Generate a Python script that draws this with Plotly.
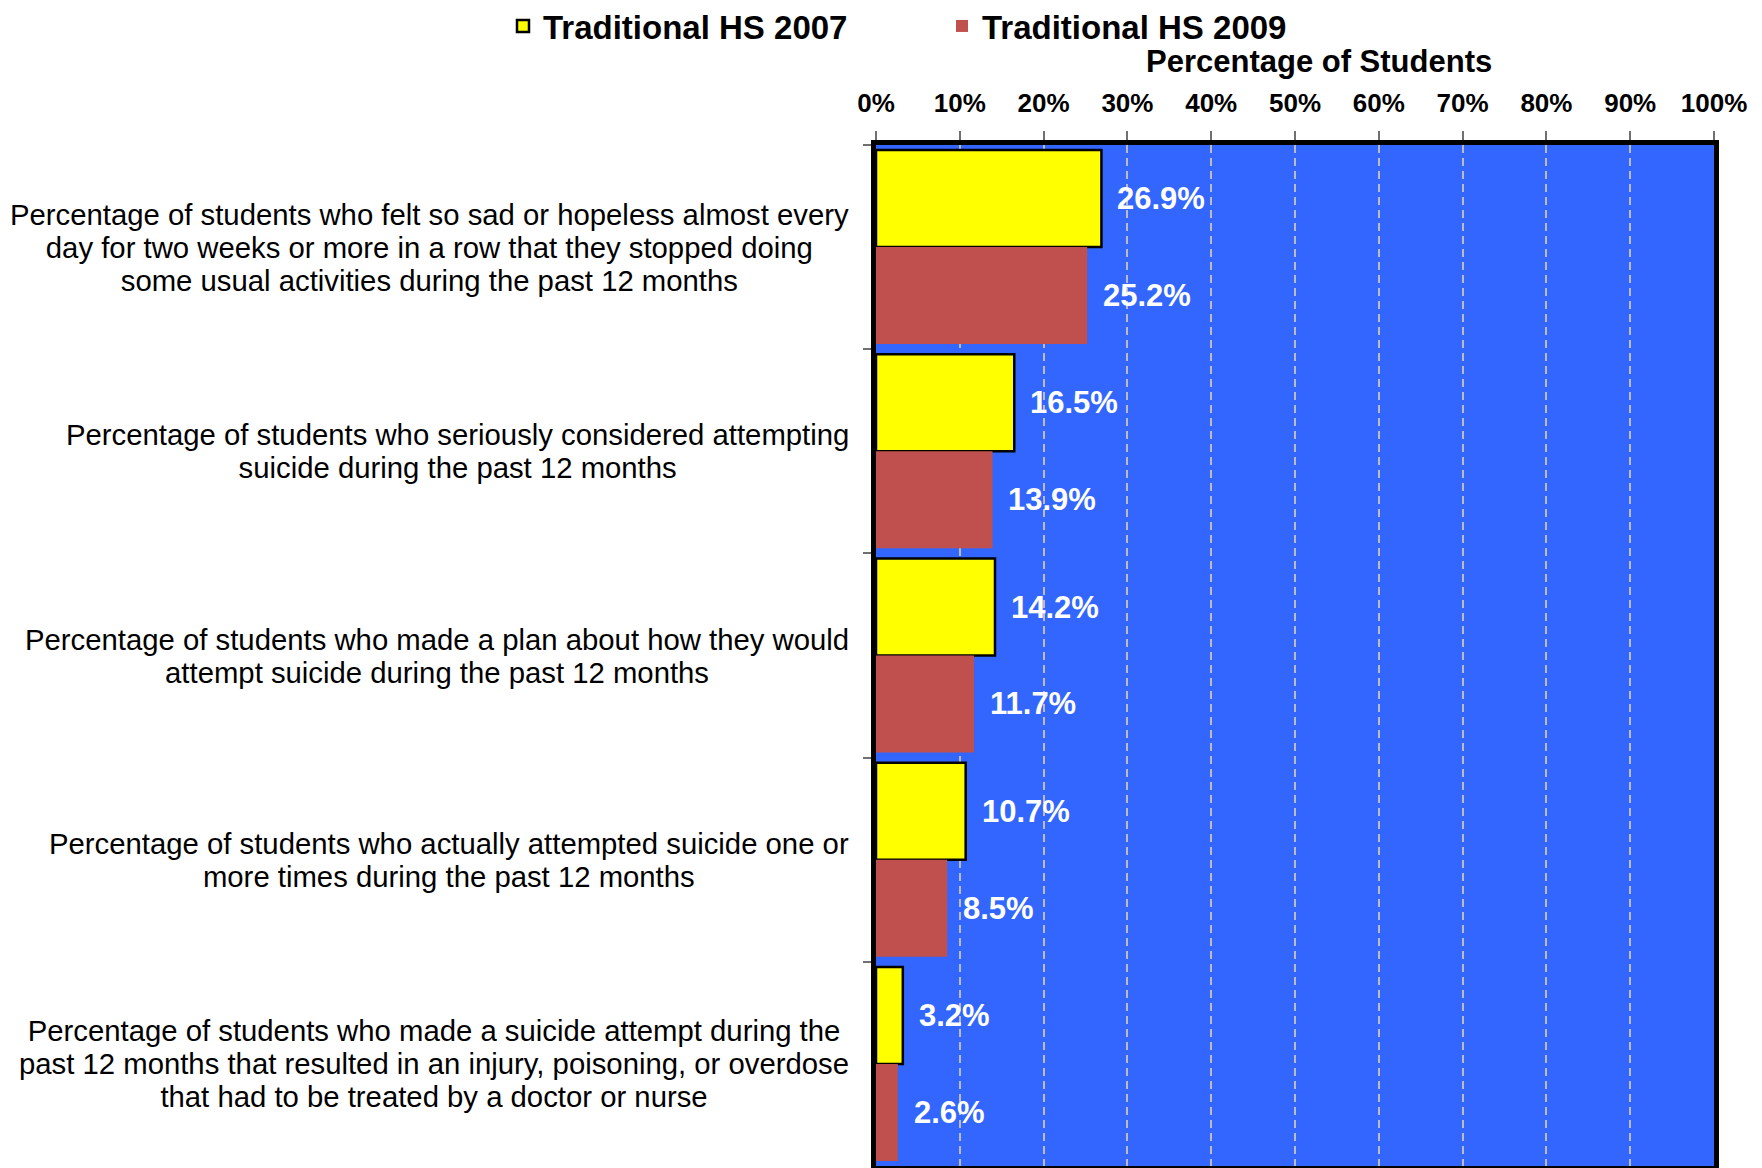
import plotly.graph_objects as go

category_lines = [
    ["Percentage of students who felt so sad or hopeless almost every",
     "day for two weeks or more in a row that they stopped doing",
     "some usual activities during the past 12 months"],
    ["Percentage of students who seriously considered attempting",
     "suicide during the past 12 months"],
    ["Percentage of students who made a plan about how they would",
     "attempt suicide during the past 12 months"],
    ["Percentage of students who actually attempted suicide one or",
     "more times during the past 12 months"],
    ["Percentage of students who made a suicide attempt during the",
     "past 12 months that resulted in an injury, poisoning, or overdose",
     "that had to be treated by a doctor or nurse"],
]
categories = [" ".join(lines) for lines in category_lines]
series_names = ["Traditional HS 2007", "Traditional HS 2009"]
values_2007 = [26.9, 16.5, 14.2, 10.7, 3.2]
values_2009 = [25.2, 13.9, 11.7, 8.5, 2.6]
x_tick_vals = [0, 10, 20, 30, 40, 50, 60, 70, 80, 90, 100]
x_tick_text = [f"{v}%" for v in x_tick_vals]

FONT = "Liberation Sans, Arial, sans-serif"
# page body has an 8px default margin, so the figure is 8px smaller each way
W, H = 1754, 1160
ML, MR, MT, MB = 868, 48, 137, 2

fig = go.Figure()
fig.add_trace(go.Bar(
    y=categories, x=values_2007, orientation="h", name=series_names[0],
    marker=dict(color="#FFFF00", line=dict(color="black", width=2.5)),
    legend="legend",
))
fig.add_trace(go.Bar(
    y=categories, x=values_2009, orientation="h", name=series_names[1],
    marker=dict(color="#C0504D", line=dict(width=0)),
    legend="legend2",
))

plot_h = H - MT - MB
group_h = plot_h / len(categories)
bargap = 0.05
bar_h = group_h * (1 - bargap) / 2
annotations = []
for vals, sign in ((values_2007, 1), (values_2009, -1)):
    for cat, v in zip(categories, vals):
        annotations.append(dict(
            x=v, y=cat, xref="x", yref="y", text=f"<b>{v:.1f}%</b>",
            showarrow=False, xanchor="left", yanchor="middle",
            xshift=14, yshift=sign * bar_h / 2,
            font=dict(family=FONT, size=31, color="white"),
        ))
for cat, lines in zip(categories, category_lines):
    txt = "<br>".join(f'<span style="font-size:29.3px">{ln}</span>' for ln in lines)
    annotations.append(dict(
        x=0, y=cat, xref="paper", yref="y", text=txt, showarrow=False,
        xanchor="right", yanchor="middle", align="center", xshift=-25,
        font=dict(family=FONT, size=25.4, color="black"),
    ))
annotations.append(dict(
    x=0.529, y=1 + (MT - 53) / plot_h, xref="paper", yref="paper",
    text="<b>Percentage of Students</b>",
    showarrow=False, xanchor="center", yanchor="middle",
    font=dict(family=FONT, size=31, color="black"),
))

legend_common = dict(
    orientation="h", xref="container", yref="container",
    y=1 - 18 / H, xanchor="left", yanchor="middle",
    font=dict(family=FONT, size=33, color="black", weight="bold"),
    bgcolor="rgba(0,0,0,0)",
)

fig.update_layout(
    width=W, height=H,
    margin=dict(l=ML, r=MR, t=MT, b=MB, autoexpand=False),
    paper_bgcolor="white", plot_bgcolor="#3366FF",
    barmode="group", bargap=bargap, bargroupgap=0,
    font=dict(family=FONT, color="black"),
    showlegend=True,
    legend=dict(x=495 / W, **legend_common),
    legend2=dict(x=934 / W, **legend_common),
    annotations=annotations,
    xaxis=dict(
        side="top", range=[0, 100], tickvals=x_tick_vals, ticktext=x_tick_text,
        tickfont=dict(family=FONT, size=26, color="black", weight="bold"),
        ticks="outside", ticklen=9, tickcolor="#707070", tickwidth=1.5,
        ticklabelstandoff=9,
        showgrid=True, gridcolor="#BBBBBB", gridwidth=2, griddash="8px,5px",
        showline=True, mirror=True, linecolor="black", linewidth=5,
        zeroline=False, fixedrange=True,
    ),
    yaxis=dict(
        autorange="reversed", showticklabels=False, tickson="boundaries",
        ticks="outside", ticklen=8, tickcolor="#707070", tickwidth=1.5,
        showgrid=False, showline=True, mirror=True, linecolor="black", linewidth=5,
        fixedrange=True,
    ),
)

fig.write_html("out.html")
